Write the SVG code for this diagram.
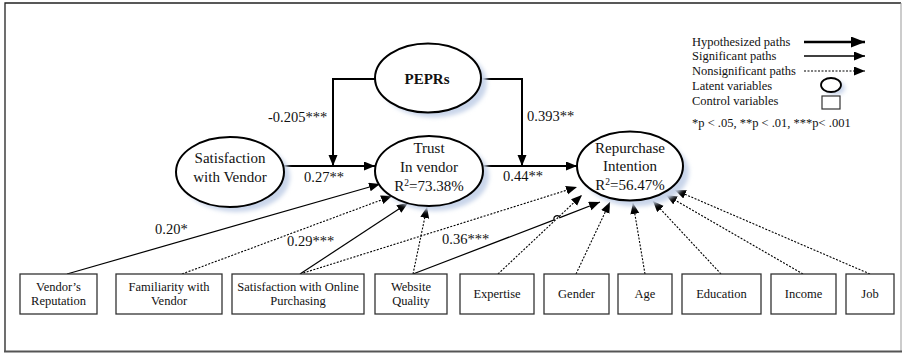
<svg xmlns="http://www.w3.org/2000/svg" width="906" height="354" viewBox="0 0 906 354">
<style>
.t{font-family:"Liberation Serif","Times New Roman",serif;fill:#111;}
.e{font-size:15px;text-anchor:middle;}
.l{font-size:14.5px;}
.b{font-size:12.5px;text-anchor:middle;}
.g{font-size:12.5px;}
.el{fill:#fff;stroke:#000;stroke-width:2;}
.sh{fill:#c9d5ea;filter:url(#blur);}
.bx{fill:#fff;stroke:#333;stroke-width:1.3;}
.s{fill:none;stroke:#000;stroke-width:1.2;marker-end:url(#ah);}
.h{fill:none;stroke:#000;stroke-width:2;marker-end:url(#ah);}
.d{fill:none;stroke:#000;stroke-width:1.1;stroke-dasharray:2 1.5;marker-end:url(#ah);}
</style>
<defs>
<filter id="blur" x="-20%" y="-20%" width="140%" height="140%"><feGaussianBlur stdDeviation="2"/></filter>
<marker id="ah" markerUnits="userSpaceOnUse" markerWidth="12" markerHeight="10" refX="11" refY="4.5" orient="auto"><path d="M0,0 L11,4.5 L0,9 z" fill="#000"/></marker>
<marker id="ahL" markerUnits="userSpaceOnUse" markerWidth="16" markerHeight="12" refX="14" refY="5.5" orient="auto"><path d="M0,0 L14,5.5 L0,11 z" fill="#000"/></marker>
</defs>
<rect x="0" y="0" width="906" height="354" fill="#fff"/>
<path d="M5,352 V3 H901" fill="none" stroke="#222" stroke-width="1.3"/>
<path d="M901,3 V351" fill="none" stroke="#999" stroke-width="1"/>
<path d="M4,351.5 H902" fill="none" stroke="#555" stroke-width="2.2"/>

<g id="connectors">
<path class="h" d="M375,79 H333 V166"/>
<path class="h" d="M481,79 H522 V166"/>
<path class="h" d="M284,166 H375"/>
<path class="h" d="M483,166 H577"/>
<path class="s" d="M67,274 L380,184"/>
<path class="d" d="M182,274 L392,196"/>
<path class="s" d="M300,274 L408,203"/>
<path class="d" d="M300,274 L577,187"/>
<path class="d" d="M413,274 L427,207"/>
<path class="s" d="M413,274 L554.2,219.8 A3,3 0 0 1 559.8,217.6 L600,202"/>
<path class="d" d="M498,274 L582,195"/>
<path class="d" d="M576,274 L610,202"/>
<path class="d" d="M645,274 L633,203"/>
<path class="d" d="M721,274 L653,201"/>
<path class="d" d="M803,274 L666,195"/>
<path class="d" d="M870,274 L675,190"/>
</g>

<g id="labels">
<text class="t l" x="268" y="122">-0.205***</text>
<text class="t l" x="527" y="121">0.393**</text>
<text class="t l" x="304" y="182">0.27**</text>
<text class="t l" x="503" y="181">0.44**</text>
<text class="t l" x="155" y="234">0.20*</text>
<text class="t l" x="287" y="246">0.29***</text>
<text class="t l" x="442" y="244">0.36***</text>
</g>

<g id="peprs">
<ellipse class="sh" cx="434" cy="83" rx="53" ry="34.5"/>
<ellipse class="el" cx="428" cy="78" rx="53" ry="34.5"/>
<text class="t e" x="427" y="84" font-weight="bold" font-size="17">PEPRs</text>
</g>
<g id="satisfaction-vendor">
<ellipse class="sh" cx="236" cy="177" rx="54" ry="35"/>
<ellipse class="el" cx="230" cy="172" rx="54" ry="35"/>
<text class="t e" x="230" y="163">Satisfaction</text>
<text class="t e" x="230" y="182">with Vendor</text>
</g>
<g id="trust">
<ellipse class="sh" cx="435" cy="176" rx="54" ry="35"/>
<ellipse class="el" cx="429" cy="171" rx="54" ry="35"/>
<text class="t e" x="429" y="153">Trust</text>
<text class="t e" x="429" y="172">In vendor</text>
<text class="t e" x="429" y="191">R<tspan font-size="9.5" dy="-5">2</tspan><tspan dy="5">=73.38%</tspan></text>
</g>
<g id="repurchase">
<ellipse class="sh" cx="636" cy="172" rx="53" ry="34.5"/>
<ellipse class="el" cx="630" cy="166" rx="53" ry="34.5"/>
<text class="t e" x="630" y="153">Repurchase</text>
<text class="t e" x="630" y="171">Intention</text>
<text class="t e" x="630" y="190">R<tspan font-size="9.5" dy="-5">2</tspan><tspan dy="5">=56.47%</tspan></text>
</g>

<g id="vendor-reputation"><rect class="bx" x="20" y="274" width="77" height="40"/><text class="t b" x="58.5" y="291">Vendor’s</text><text class="t b" x="58.5" y="305">Reputation</text></g>
<g id="familiarity"><rect class="bx" x="116" y="274" width="106" height="40"/><text class="t b" x="169" y="291">Familiarity with</text><text class="t b" x="169" y="305">Vendor</text></g>
<g id="satisfaction-online"><rect class="bx" x="232" y="274" width="132" height="40"/><text class="t b" x="298" y="291">Satisfaction with Online</text><text class="t b" x="298" y="305">Purchasing</text></g>
<g id="website-quality"><rect class="bx" x="375" y="274" width="72" height="40"/><text class="t b" x="411" y="291">Website</text><text class="t b" x="411" y="305">Quality</text></g>
<g id="expertise"><rect class="bx" x="460" y="274" width="74" height="40"/><text class="t b" x="497" y="298">Expertise</text></g>
<g id="gender"><rect class="bx" x="544" y="274" width="65" height="40"/><text class="t b" x="576.5" y="298">Gender</text></g>
<g id="age"><rect class="bx" x="618" y="274" width="54" height="40"/><text class="t b" x="645" y="298">Age</text></g>
<g id="education"><rect class="bx" x="682" y="274" width="79" height="40"/><text class="t b" x="721.5" y="298">Education</text></g>
<g id="income"><rect class="bx" x="771" y="274" width="65" height="40"/><text class="t b" x="803.5" y="298">Income</text></g>
<g id="job"><rect class="bx" x="846" y="274" width="48" height="40"/><text class="t b" x="870" y="298">Job</text></g>

<g id="legend">
<text class="t g" x="692" y="46">Hypothesized paths</text>
<text class="t g" x="692" y="60">Significant paths</text>
<text class="t g" x="692" y="75">Nonsignificant paths</text>
<text class="t g" x="692" y="90">Latent variables</text>
<text class="t g" x="692" y="105">Control variables</text>
<text class="t g" x="692" y="127">*p &lt; .05, **p &lt; .01, ***p&lt; .001</text>
<path d="M804,42 H865" fill="none" stroke="#000" stroke-width="2.5" marker-end="url(#ahL)"/>
<path d="M804,56 H865" fill="none" stroke="#000" stroke-width="1.5" marker-end="url(#ah)"/>
<path d="M804,71 H865" fill="none" stroke="#000" stroke-width="1.1" stroke-dasharray="2 1.5" marker-end="url(#ah)"/>
<ellipse cx="835" cy="88" rx="10" ry="7" fill="#c9d5ea" filter="url(#blur)"/>
<ellipse cx="831" cy="85" rx="10" ry="7" fill="#fff" stroke="#000" stroke-width="1.8"/>
<rect x="822" y="96" width="18" height="13" fill="#fff" stroke="#333" stroke-width="1.2"/>
</g>
</svg>
